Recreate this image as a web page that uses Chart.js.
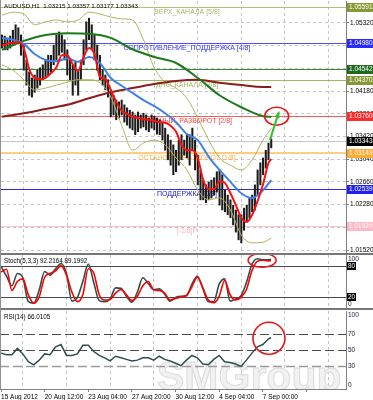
<!DOCTYPE html>
<html>
<head>
<meta charset="utf-8">
<script src="https://cdn.jsdelivr.net/npm/chart.js@4.4.0/dist/chart.umd.min.js"></script>
<style>
html, body { margin: 0; padding: 0; background: #fff; }
#wrap { position: relative; width: 373px; height: 400px; overflow: hidden; background: #fff; }
canvas { position: absolute; left: 0; }
.sep { position: absolute; left: 0; width: 373px; height: 2px; background: #777; }
.edge { position: absolute; left: 0; top: 0; width: 1px; height: 389px; background: #909090; }
</style>
</head>
<body>
<div id="wrap">
  <canvas id="mainChart" width="373" height="254" style="top:0"></canvas>
  <canvas id="stochChart" width="373" height="53" style="top:255px"></canvas>
  <canvas id="rsiChart" width="373" height="90" style="top:310px"></canvas>
  <div class="sep" style="top:253px"></div>
  <div class="sep" style="top:308px"></div>
  <div class="edge"></div>
</div>
<script>
// --- data (AUDUSD H1) ---
const CANDLE_STEP = 4;   // hours per drawn candle
const STEP_FAST = 8;
const STEP_MID = 16;
const STEP_SLOW = 32;
const OSC_STEP = 8;
const LAST_BAR = 396;

const timeTickBars = [0, 64, 128, 192, 256, 320, 384];
const timeLabels = ['15 Aug 2012', '20 Aug 12:00', '23 Aug 04:00', '27 Aug 20:00', '30 Aug 12:00', '4 Sep 04:00', '7 Sep 00:00'];
const priceTicks = [1.0152, 1.0190, 1.0228, 1.0266, 1.0304, 1.0342, 1.0380, 1.0418, 1.0456, 1.0494, 1.0532];

const candleHigh = [1.0512, 1.0510, 1.0507, 1.0510, 1.0520, 1.0529, 1.0524, 1.0512, 1.0495, 1.0470,
  1.0450, 1.0440, 1.0445, 1.0453, 1.0457, 1.0462, 1.0470, 1.0478, 1.0478, 1.0495,
  1.0512, 1.0517, 1.0512, 1.0504, 1.0487, 1.0470, 1.0462, 1.0467, 1.0453, 1.0470,
  1.0504, 1.0534, 1.0540, 1.0529, 1.0512, 1.0495, 1.0478, 1.0453, 1.0445, 1.0437,
  1.0420, 1.0411, 1.0403, 1.0400, 1.0403, 1.0395, 1.0390, 1.0386, 1.0383, 1.0378,
  1.0383, 1.0378, 1.0381, 1.0378, 1.0373, 1.0378, 1.0376, 1.0373, 1.0370, 1.0366,
  1.0356, 1.0345, 1.0336, 1.0328, 1.0319, 1.0336, 1.0345, 1.0336, 1.0345, 1.0345,
  1.0356, 1.0336, 1.0311, 1.0286, 1.0269, 1.0261, 1.0266, 1.0269, 1.0273, 1.0283,
  1.0286, 1.0278, 1.0252, 1.0244, 1.0236, 1.0227, 1.0219, 1.0211, 1.0211, 1.0222,
  1.0227, 1.0239, 1.0244, 1.0261, 1.0286, 1.0298, 1.0306, 1.0319, 1.0331, 1.0338];
const candleLow = [1.0490, 1.0487, 1.0487, 1.0490, 1.0495, 1.0500, 1.0497, 1.0478, 1.0453, 1.0428,
  1.0411, 1.0408, 1.0416, 1.0423, 1.0428, 1.0437, 1.0440, 1.0445, 1.0450, 1.0462,
  1.0470, 1.0478, 1.0483, 1.0470, 1.0445, 1.0437, 1.0411, 1.0428, 1.0411, 1.0437,
  1.0462, 1.0487, 1.0504, 1.0487, 1.0470, 1.0453, 1.0437, 1.0428, 1.0420, 1.0408,
  1.0375, 1.0378, 1.0370, 1.0373, 1.0378, 1.0366, 1.0361, 1.0356, 1.0353, 1.0345,
  1.0350, 1.0356, 1.0358, 1.0353, 1.0350, 1.0356, 1.0353, 1.0346, 1.0345, 1.0336,
  1.0319, 1.0303, 1.0294, 1.0278, 1.0283, 1.0294, 1.0303, 1.0311, 1.0306, 1.0294,
  1.0319, 1.0286, 1.0261, 1.0236, 1.0236, 1.0231, 1.0236, 1.0239, 1.0244, 1.0249,
  1.0227, 1.0219, 1.0216, 1.0211, 1.0206, 1.0194, 1.0182, 1.0169, 1.0164, 1.0185,
  1.0199, 1.0206, 1.0216, 1.0219, 1.0244, 1.0261, 1.0278, 1.0289, 1.0303, 1.0323];

const maRed = [1.0494, 1.0497, 1.0499, 1.0500, 1.0490, 1.0455, 1.0440, 1.0438, 1.0440, 1.0448,
  1.0458, 1.0478, 1.0478, 1.0463, 1.0452, 1.0475, 1.0490, 1.0480, 1.0442, 1.0438,
  1.0420, 1.0400, 1.0385, 1.0380, 1.0375, 1.0373, 1.0371, 1.0370, 1.0368, 1.0366,
  1.0365, 1.0360, 1.0350, 1.0328, 1.0319, 1.0319, 1.0306, 1.0269, 1.0254, 1.0254,
  1.0267, 1.0264, 1.0247, 1.0227, 1.0206, 1.0199, 1.0211, 1.0234, 1.0262, 1.0298, 1.0304];
const maBlue = [1.0507, 1.0504, 1.0497, 1.0480, 1.0470, 1.0468, 1.0473, 1.0467, 1.0475, 1.0465,
  1.0440, 1.0427, 1.0415, 1.0403, 1.0393, 1.0381, 1.0366, 1.0346, 1.0336, 1.0308,
  1.0286, 1.0266, 1.0247, 1.0239, 1.0252, 1.0269];
const maGreen = [1.0487, 1.0502, 1.0512, 1.0515, 1.0514, 1.0507, 1.0488, 1.0475, 1.0465, 1.0440,
  1.0411, 1.0391, 1.0376, 1.0375];
const maBrown = [1.0375, 1.0381, 1.0388, 1.0395, 1.0406, 1.0416, 1.0423, 1.0430, 1.0435, 1.0437,
  1.0432, 1.0428, 1.0425, 1.0425];
const bandUpper = [1.0545, 1.0550, 1.0547, 1.0529, 1.0534, 1.0537, 1.0534, 1.0537, 1.0550, 1.0547,
  1.0542, 1.0539, 1.0537, 1.0504, 1.0457, 1.0433, 1.0423, 1.0406, 1.0373, 1.0336,
  1.0306, 1.0294, 1.0286, 1.0303, 1.0336, 1.0356];
const bandLower = [1.0462, 1.0453, 1.0437, 1.0420, 1.0423, 1.0428, 1.0433, 1.0437, 1.0437, 1.0432,
  1.0408, 1.0361, 1.0319, 1.0331, 1.0336, 1.0328, 1.0306, 1.0286, 1.0252, 1.0236,
  1.0239, 1.0219, 1.0177, 1.0164, 1.0165, 1.0172];

const stochMain = [79, 60, 42, 65, 57, 12, 9, 34, 69, 62, 74, 84, 65, 13, 20, 50, 83, 48, 14, 12,
  17, 38, 37, 22, 11, 30, 57, 46, 35, 36, 26, 13, 20, 22, 23, 45, 60, 37, 12, 12,
  45, 55, 13, 17, 23, 48, 82, 93, 91, 91, 92.2];
const stochSignal = [68, 73, 33, 50, 55, 25, 9, 21, 58, 65, 70, 80, 62, 30, 12, 25, 74, 66, 25, 15,
  16, 28, 35, 25, 14, 22, 42, 50, 34, 33, 28, 15, 18, 21, 24, 40, 58, 38, 15, 10,
  22, 52, 25, 15, 20, 35, 70, 88, 90, 89, 89.2];
const rsiValues = [46, 44, 44, 52, 45, 35, 31, 37, 45, 44, 54, 57, 43, 43, 45, 56, 56, 48, 43, 40,
  36, 42, 40, 38, 36, 37, 40, 40, 37, 42, 38, 36, 33, 30, 37, 43, 40, 32, 31, 38,
  43, 35, 34, 32, 29, 37, 46, 54, 57, 64, 66.01];

const levelPrices = [1.05591, 1.04980, 1.04542, 1.04370, 1.03760, 1.03149, 1.02539, 1.01929];
const levelNames = ['ВЕРХ_КАНАЛА [5/8]', 'СОПРОТИВЛЕНИЕ_ПОДДЕРЖКА [4/8]', '', 'ДНО_КАНАЛА [3/8]',
  'ГЛАВНЫЙ_РАЗВОРОТ [2/8]', 'ОСТАНОВКА/РАЗВОРОТ [1/8]', 'ПОДДЕРЖКА [0/8]', '[-1/8]P'];
const ohlcNow = [1.03215, 1.03357, 1.03177, 1.03343];
const stochNow = [92.2164, 89.1992];
const rsiNow = 66.0105;
const stochLevels = [80, 20];
const stochAxis = [100, 80, 20, 0];
const rsiLevels = [70, 50, 30];
const rsiAxis = [100, 70, 50, 30, 0];

// --- styles ---
const FONT = "'Liberation Sans', Arial, sans-serif";
const GRID = '#c4c4c4';
const AXIS = '#808080';
const BAND = '#b4b25a';
const levelLine = ['#b3c276', '#4b4bff', '#3a8a3a', '#a3b659', '#ff5a5a', '#ffcc84', '#2b2be0', '#ffc2cc'];
const levelWidth = [1, 1, 1, 1, 1, 2, 1, 1];
const levelBox = ['#869936', '#2a2aff', '#1f6a1f', '#869936', '#ff2a2a', '#ffaa30', '#2020f0', '#ffb8c6'];
const levelText = ['#a9b96a', '#3030ff', '', '#a3b659', '#ff4040', '#ffb24a', '#2020d0', '#ffb0c0'];
const LABEL_BAR = 272;

Chart.defaults.font.family = FONT;
Chart.defaults.font.size = 6.5;
Chart.defaults.color = '#000';
Chart.defaults.animation = false;

const toPoints = (vals, step) => vals.map((v, i) => ({ x: Math.min(i * step, LAST_BAR), y: v }));
const candles = candleHigh.map((h, i) => ({ x: i * CANDLE_STEP, y: [candleLow[i], h] }));

function xScale(showLabels) {
  return {
    type: 'linear', min: -1.5, max: 506, offset: false,
    afterBuildTicks: s => { const t = []; for (let v = 0; v <= 506; v += 32) t.push({ value: v }); s.ticks = t; },
    ticks: {
      display: showLabels, autoSkip: false, maxRotation: 0, minRotation: 0, align: 'start', padding: 1,
      callback: v => { const i = timeTickBars.indexOf(v); return i >= 0 ? timeLabels[i] : ''; }
    },
    grid: {
      offset: false,
      color: c => (c.tick && c.tick.value % 64 === 32) ? GRID : 'transparent',
      drawTicks: showLabels, tickLength: 3, tickBorderDash: [],
      tickColor: c => (c.tick && c.tick.value % 64 === 0) ? AXIS : 'transparent'
    },
    border: { display: showLabels, color: AXIS, dash: [3, 3] },
    afterFit: s => { s.height = showLabels ? 11 : 0; s.paddingLeft = 0; s.paddingRight = 0; }
  };
}

function rightAxis(extra) {
  return Object.assign({
    position: 'right',
    ticks: { display: false },
    grid: { display: false },
    border: { color: AXIS },
    afterFit: s => { s.width = 27; s.paddingTop = 0; s.paddingBottom = 0; }
  }, extra);
}

function ellipse(ctx, cx, cy, rx, ry) {
  ctx.save();
  ctx.strokeStyle = '#e8161b';
  ctx.lineWidth = 1.6;
  ctx.beginPath();
  ctx.ellipse(cx, cy, rx, ry, 0, 0, Math.PI * 2);
  ctx.stroke();
  ctx.restore();
}

function axisBox(ctx, x, y, bg, text, fg) {
  ctx.fillStyle = bg;
  ctx.fillRect(x, Math.round(y) - 4, 373 - x, 9);
  ctx.fillStyle = fg;
  ctx.textAlign = 'left';
  ctx.textBaseline = 'middle';
  ctx.fillText(text, x + 2, Math.round(y) + 0.5);
}

// --- main price window ---
const mainDecor = {
  id: 'mainDecor',
  beforeDatasetsDraw(chart) {
    const { ctx, chartArea: a, scales: { x, y } } = chart;
    ctx.save();
    ctx.beginPath();
    ctx.rect(a.left, a.top, a.right - a.left, a.bottom - a.top);
    ctx.clip();
    const cy = Math.round(y.getPixelForValue(ohlcNow[3])) + 0.5;
    ctx.strokeStyle = '#c8c8c8';
    ctx.lineWidth = 1;
    ctx.beginPath(); ctx.moveTo(a.left, cy); ctx.lineTo(a.right, cy); ctx.stroke();
    levelPrices.forEach((p, i) => {
      const ly = Math.round(y.getPixelForValue(p)) + (levelWidth[i] === 1 ? 0.5 : 0);
      ctx.strokeStyle = levelLine[i];
      ctx.lineWidth = levelWidth[i];
      ctx.beginPath(); ctx.moveTo(a.left, ly); ctx.lineTo(a.right, ly); ctx.stroke();
    });
    ctx.font = `7px ${FONT}`;
    ctx.textAlign = 'center';
    ctx.textBaseline = 'top';
    const lx = x.getPixelForValue(LABEL_BAR);
    levelNames.forEach((n, i) => {
      if (!n) return;
      ctx.fillStyle = levelText[i];
      ctx.fillText(n, lx, Math.round(y.getPixelForValue(levelPrices[i])) + 2);
    });
    ctx.restore();
  },
  afterDatasetsDraw(chart) {
    const { ctx, scales: { x, y } } = chart;
    ellipse(ctx, x.getPixelForValue(404), y.getPixelForValue(1.0376), 12, 9);
    // green arrow
    const x0 = x.getPixelForValue(394), y0 = y.getPixelForValue(1.0336);
    const x1 = x.getPixelForValue(407), y1 = y.getPixelForValue(1.0382);
    ctx.save();
    ctx.strokeStyle = '#2fbf2f';
    ctx.fillStyle = '#2fbf2f';
    ctx.lineWidth = 2;
    ctx.beginPath(); ctx.moveTo(x0, y0); ctx.lineTo(x1, y1); ctx.stroke();
    const ang = Math.atan2(y1 - y0, x1 - x0);
    ctx.beginPath();
    ctx.moveTo(x1 + Math.cos(ang) * 2, y1 + Math.sin(ang) * 2);
    ctx.lineTo(x1 - Math.cos(ang - 0.45) * 6, y1 - Math.sin(ang - 0.45) * 6);
    ctx.lineTo(x1 - Math.cos(ang + 0.45) * 6, y1 - Math.sin(ang + 0.45) * 6);
    ctx.closePath(); ctx.fill();
    ctx.restore();
  },
  afterDraw(chart) {
    const { ctx, chartArea: a, scales: { y } } = chart;
    ctx.save();
    ctx.font = `6.5px ${FONT}`;
    levelPrices.forEach((p, i) => {
      axisBox(ctx, a.right + 1, y.getPixelForValue(p), levelBox[i], p.toFixed(5), '#fff');
    });
    axisBox(ctx, a.right + 1, y.getPixelForValue(ohlcNow[3]), '#000', ohlcNow[3].toFixed(5), '#fff');
    ctx.font = `6.2px ${FONT}`;
    ctx.fillStyle = '#000';
    ctx.textAlign = 'left';
    ctx.textBaseline = 'top';
    ctx.fillText('AUDUSD,H1  ' + ohlcNow.map(v => v.toFixed(5)).join(' '), 4, 3);
    ctx.restore();
  }
};

new Chart(document.getElementById('mainChart'), {
  type: 'bar',
  data: {
    datasets: [
      { type: 'bar', data: candles, backgroundColor: '#1c1c1c', barThickness: 1.4, grouped: false, order: 7 },
      { type: 'line', data: toPoints(bandUpper, STEP_MID), borderColor: BAND, borderWidth: 1, order: 6 },
      { type: 'line', data: toPoints(bandLower, STEP_MID), borderColor: BAND, borderWidth: 1, order: 6 },
      { type: 'line', data: toPoints(maBrown, STEP_SLOW), borderColor: '#8a1d1d', borderWidth: 2, order: 5 },
      { type: 'line', data: toPoints(maGreen, STEP_SLOW), borderColor: '#1b7a1b', borderWidth: 2, order: 4 },
      { type: 'line', data: toPoints(maBlue, STEP_MID), borderColor: '#4082ea', borderWidth: 2, order: 3 },
      { type: 'line', data: toPoints(maRed, STEP_FAST), borderColor: '#ff1010', borderWidth: 2, order: 2 }
    ]
  },
  options: {
    responsive: false, events: [],
    layout: { padding: { left: 1, top: 1, right: 0, bottom: 1 } },
    plugins: { legend: { display: false }, tooltip: { enabled: false } },
    elements: { point: { radius: 0 }, line: { cubicInterpolationMode: 'monotone' } },
    scales: {
      x: xScale(false),
      y: {
        position: 'right', min: 1.0147, max: 1.05688,
        afterBuildTicks: s => { s.ticks = priceTicks.map(v => ({ value: v })); },
        ticks: { padding: 1, callback: v => v.toFixed(5) },
        grid: { color: GRID, tickLength: 3, tickColor: AXIS, tickBorderDash: [] },
        border: { color: AXIS, dash: [3, 3] },
        afterFit: s => { s.width = 27; s.paddingTop = 0; s.paddingBottom = 0; }
      }
    }
  },
  plugins: [mainDecor]
});

// --- stochastic window ---
function axisLabels(chart, values, boxed) {
  const { ctx, chartArea: a, scales: { y } } = chart;
  ctx.save();
  ctx.font = `6.5px ${FONT}`;
  ctx.textAlign = 'left';
  ctx.textBaseline = 'middle';
  values.forEach(v => {
    let py = y.getPixelForValue(v);
    py = Math.min(Math.max(py, a.top + 4), a.bottom - 4);
    if (boxed.includes(v)) {
      ctx.fillStyle = '#000';
      ctx.fillRect(a.right + 1, Math.round(py) - 4, 9, 8);
      ctx.fillStyle = '#fff';
    } else {
      ctx.fillStyle = '#1a1a3a';
    }
    ctx.fillText(String(v), a.right + 2, Math.round(py) + 0.5);
  });
  ctx.restore();
}

const stochDecor = {
  id: 'stochDecor',
  beforeDatasetsDraw(chart) {
    const { ctx, chartArea: a, scales: { y } } = chart;
    ctx.save();
    ctx.strokeStyle = '#4a4a4a';
    ctx.lineWidth = 1;
    stochLevels.forEach(v => {
      const py = Math.round(y.getPixelForValue(v)) + 0.5;
      ctx.beginPath(); ctx.moveTo(a.left, py); ctx.lineTo(a.right, py); ctx.stroke();
    });
    ctx.restore();
  },
  afterDatasetsDraw(chart) {
    const { ctx, scales: { x, y } } = chart;
    ellipse(ctx, x.getPixelForValue(383), y.getPixelForValue(90), 14, 7);
  },
  afterDraw(chart) {
    axisLabels(chart, stochAxis, stochLevels);
    const { ctx } = chart;
    ctx.save();
    ctx.font = `6.3px ${FONT}`;
    ctx.fillStyle = '#000';
    ctx.textBaseline = 'top';
    ctx.fillText('Stoch(5,3,3) ' + stochNow.map(v => v.toFixed(4)).join(' '), 4, 3);
    ctx.restore();
  }
};

new Chart(document.getElementById('stochChart'), {
  type: 'line',
  data: {
    datasets: [
      { data: toPoints(stochMain, OSC_STEP), borderColor: '#2f4f4f', borderWidth: 1.6, order: 2 },
      { data: toPoints(stochSignal, OSC_STEP), borderColor: '#ff0000', borderWidth: 1.6, order: 1 }
    ]
  },
  options: {
    responsive: false, events: [],
    layout: { padding: 0 },
    plugins: { legend: { display: false }, tooltip: { enabled: false } },
    elements: { point: { radius: 0 }, line: { cubicInterpolationMode: 'monotone' } },
    scales: { x: xScale(false), y: rightAxis({ min: 0, max: 100 }) }
  },
  plugins: [stochDecor]
});

// --- RSI window ---
const rsiDecor = {
  id: 'rsiDecor',
  beforeDatasetsDraw(chart) {
    const { ctx, chartArea: a, scales: { y } } = chart;
    ctx.save();
    ctx.beginPath();
    ctx.rect(a.left, a.top, a.right - a.left, a.bottom - a.top);
    ctx.clip();
    ctx.font = `bold 41px ${FONT}`;
    ctx.textAlign = 'left';
    ctx.textBaseline = 'alphabetic';
    ctx.fillStyle = '#f1f1f1';
    ctx.strokeStyle = '#dcdcdc';
    ctx.lineWidth = 1;
    ctx.fillText('SMGroup', 157, a.bottom + 1);
    ctx.strokeText('SMGroup', 157, a.bottom + 1);
    ctx.setLineDash([9, 4]);
    rsiLevels.forEach(v => {
      const py = Math.round(y.getPixelForValue(v)) + 0.5;
      ctx.strokeStyle = v === 30 ? '#9a9a9a' : '#4a4a4a';
      ctx.lineWidth = v === 30 ? 1.5 : 1;
      ctx.beginPath(); ctx.moveTo(a.left, py); ctx.lineTo(a.right, py); ctx.stroke();
    });
    ctx.restore();
  },
  afterDatasetsDraw(chart) {
    const { ctx, scales: { x, y } } = chart;
    ellipse(ctx, x.getPixelForValue(393), y.getPixelForValue(65), 16, 16);
  },
  afterDraw(chart) {
    axisLabels(chart, rsiAxis, []);
    const { ctx } = chart;
    ctx.save();
    ctx.font = `6.3px ${FONT}`;
    ctx.fillStyle = '#000';
    ctx.textBaseline = 'top';
    ctx.fillText('RSI(14) ' + rsiNow.toFixed(4), 4, 4);
    ctx.restore();
  }
};

new Chart(document.getElementById('rsiChart'), {
  type: 'line',
  data: {
    datasets: [
      { data: toPoints(rsiValues, OSC_STEP), borderColor: '#2f4f4f', borderWidth: 1.5, tension: 0 }
    ]
  },
  options: {
    responsive: false, events: [],
    layout: { padding: { top: 1, left: 0, right: 0, bottom: 0 } },
    plugins: { legend: { display: false }, tooltip: { enabled: false } },
    elements: { point: { radius: 0 } },
    scales: { x: xScale(true), y: rightAxis({ min: 0, max: 100 }) }
  },
  plugins: [rsiDecor]
});
</script>
</body>
</html>
